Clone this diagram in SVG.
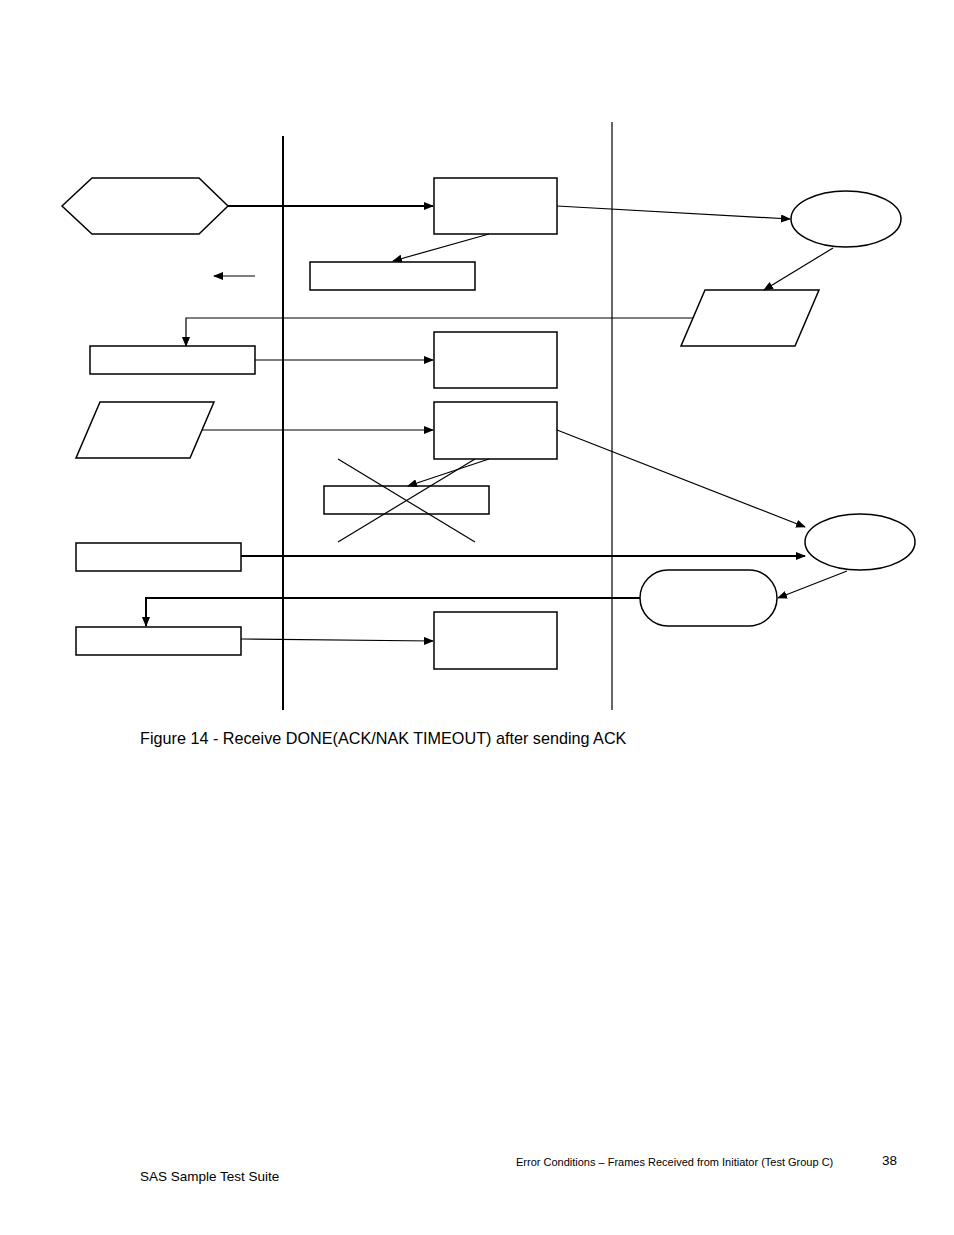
<svg xmlns="http://www.w3.org/2000/svg" width="954" height="1235" viewBox="0 0 954 1235">
<defs><marker id="a" markerWidth="10" markerHeight="8" refX="9" refY="4" orient="auto" markerUnits="userSpaceOnUse"><path d="M0,0L10,4L0,8z" fill="#000"/></marker></defs>
<style>.s{fill:#fff;stroke:#000;stroke-width:1.5}.c{fill:none;stroke:#000;stroke-width:1.2}.l{fill:none;stroke:#000;stroke-width:2}text{font-family:"Liberation Sans",Arial,sans-serif;fill:#000}</style>
<rect width="954" height="1235" fill="#fff"/>
<g id="lanes"><line class="l" x1="283" y1="136" x2="283" y2="710"/><line class="c" x1="612" y1="122" x2="612" y2="710"/></g>
<g id="n1"><polygon class="s" points="62,206 92,178 199,178 228,206 199,234 92,234"/></g>
<g id="n2"><rect class="s" x="434" y="178" width="123" height="56"/></g>
<g id="n3"><ellipse class="s" cx="846" cy="219" rx="55" ry="28"/></g>
<g id="n4"><rect class="s" x="310" y="262" width="165" height="28"/></g>
<g id="n5"><polygon class="s" points="705,290 819,290 795,346 681,346"/></g>
<g id="n6"><rect class="s" x="90" y="346" width="165" height="28"/></g>
<g id="n7"><rect class="s" x="434" y="332" width="123" height="56"/></g>
<g id="n8"><polygon class="s" points="100,402 214,402 190,458 76,458"/></g>
<g id="n9"><rect class="s" x="434" y="402" width="123" height="57"/></g>
<g id="n10"><rect class="s" x="324" y="486" width="165" height="28"/></g>
<g id="n11"><ellipse class="s" cx="860" cy="542" rx="55" ry="28"/></g>
<g id="n12"><rect class="s" x="76" y="543" width="165" height="28"/></g>
<g id="n13"><rect class="s" x="640" y="570" width="137" height="56" rx="28"/></g>
<g id="n14"><rect class="s" x="76" y="627" width="165" height="28"/></g>
<g id="n15"><rect class="s" x="434" y="612" width="123" height="57"/></g>
<g id="connectors">
<line class="l" x1="228" y1="206" x2="433" y2="206" marker-end="url(#a)"/>
<line class="c" x1="557" y1="206" x2="790" y2="219" marker-end="url(#a)"/>
<line class="c" x1="489" y1="234" x2="393" y2="261" marker-end="url(#a)"/>
<line class="c" x1="255" y1="276" x2="214" y2="276" marker-end="url(#a)"/>
<line class="c" x1="833" y1="248" x2="764" y2="290" marker-end="url(#a)"/>
<polyline class="c" points="693,318 186,318 186,346" marker-end="url(#a)"/>
<line class="c" x1="255" y1="360" x2="433" y2="360" marker-end="url(#a)"/>
<line class="c" x1="202" y1="430" x2="433" y2="430" marker-end="url(#a)"/>
<line class="c" x1="489" y1="459" x2="408" y2="486" marker-end="url(#a)"/>
<line class="c" x1="338" y1="459" x2="475" y2="542"/>
<line class="c" x1="338" y1="542" x2="475" y2="459"/>
<line class="c" x1="557" y1="430" x2="805" y2="527" marker-end="url(#a)"/>
<line class="l" x1="241" y1="556" x2="805" y2="556" marker-end="url(#a)"/>
<line class="c" x1="847" y1="571" x2="778" y2="598" marker-end="url(#a)"/>
<polyline class="l" points="640,598 146,598 146,626" marker-end="url(#a)"/>
<line class="c" x1="241" y1="639" x2="433" y2="641" marker-end="url(#a)"/>
</g>
<text x="140" y="744" font-size="16.2">Figure 14 - Receive DONE(ACK/NAK TIMEOUT) after sending ACK</text>
<text x="516" y="1166" font-size="11">Error Conditions – Frames Received from Initiator (Test Group C)</text>
<text x="882" y="1165" font-size="13.5">38</text>
<text x="140" y="1181" font-size="13.5">SAS Sample Test Suite</text>
</svg>
